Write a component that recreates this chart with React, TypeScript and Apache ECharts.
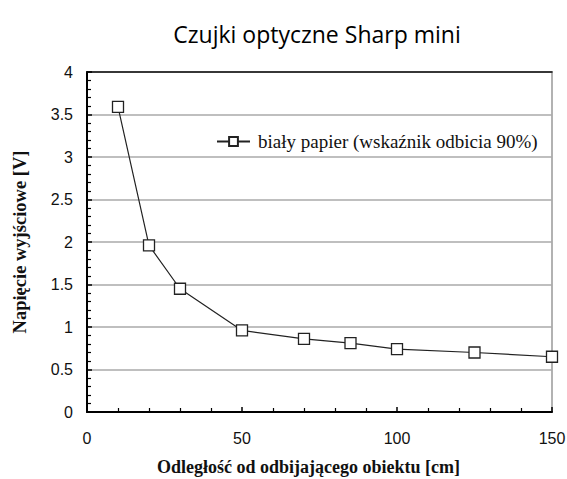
import React, { useEffect, useRef } from "react";
import * as echarts from "echarts";

const distances = [10, 20, 30, 50, 70, 85, 100, 125, 150];
const voltages = [3.59, 1.96, 1.45, 0.96, 0.86, 0.81, 0.74, 0.7, 0.65];
const seriesName = "biały papier (wskaźnik odbicia 90%)";
const titleText = "Czujki optyczne Sharp mini";
const xName = "Odległość od odbijającego obiektu [cm]";
const yName = "Napięcie wyjściowe [V]";

export default function App() {
  const ref = useRef<HTMLDivElement>(null);
  useEffect(() => {
    if (!ref.current) return;
    const chart = echarts.init(ref.current, undefined, { renderer: "svg" });
    const serif = "'Liberation Serif', 'DejaVu Serif', serif";
    const sans = "'Liberation Sans', Arial, sans-serif";
    chart.setOption({
      animation: false,
      backgroundColor: "#fff",
      title: {
        text: titleText,
        left: 312,
        textAlign: "center",
        top: 17,
        textStyle: { fontFamily: "'Open Sans', 'Noto Sans', sans-serif", fontSize: 23, fontWeight: "normal", color: "#000" },
      },
      legend: {
        left: 211,
        top: 127,
        itemWidth: 33,
        itemHeight: 11,
        itemGap: 6,
        data: [seriesName],
        textStyle: { fontFamily: serif, fontSize: 19, color: "#111", padding: [0, 0, 0, 3] },
      },
      grid: {
        left: 87,
        top: 72,
        right: 15,
        bottom: 67,
        outerBoundsMode: "none",
        containLabel: false,
        show: true,
        borderColor: "#999",
        borderWidth: 1.5,
      },
      xAxis: [
        {
          type: "value",
          min: 0,
          max: 150,
          interval: 50,
          name: xName,
          nameLocation: "middle",
          nameGap: 46,
          nameTextStyle: { fontFamily: serif, fontSize: 18, fontWeight: "bold", color: "#111", padding: [0, 22, 0, 0] },
          axisLine: { show: true, lineStyle: { color: "#000", width: 2 } },
          axisTick: { show: true, inside: true, length: 5, lineStyle: { color: "#000", width: 1.5 } },
          minorTick: { show: true, splitNumber: 5, length: 4, lineStyle: { color: "#000", width: 1.2 } },
          axisLabel: { margin: 18, fontFamily: sans, fontSize: 16, color: "#111" },
          splitLine: { show: false },
        },
        {
          type: "value",
          position: "top",
          min: 0,
          max: 150,
          interval: 50,
          axisLine: { show: true, lineStyle: { color: "#111", width: 1.5 } },
          axisTick: { show: false },
          axisLabel: { show: false },
          splitLine: { show: false },
        },
      ],
      yAxis: {
        type: "value",
        min: 0,
        max: 4,
        interval: 0.5,
        name: yName,
        nameLocation: "middle",
        nameGap: 58,
        nameTextStyle: { fontFamily: serif, fontSize: 18.5, fontWeight: "bold", color: "#111" },
        axisLine: { show: true, lineStyle: { color: "#000", width: 2 } },
        axisTick: { show: true, inside: true, length: 5, lineStyle: { color: "#000", width: 1.5 } },
        minorTick: { show: true, splitNumber: 5, length: 4, lineStyle: { color: "#000", width: 1.2 } },
        axisLabel: { margin: 14, fontFamily: sans, fontSize: 16, color: "#111" },
        splitLine: { show: true, lineStyle: { color: "#aaa", width: 1.5 } },
      },
      series: [
        {
          name: seriesName,
          type: "line",
          xAxisIndex: 0,
          data: distances.map((d, i) => [d, voltages[i]]),
          symbol: "rect",
          symbolSize: 11,
          lineStyle: { color: "#222", width: 1.2 },
          itemStyle: { color: "#fff", borderColor: "#222", borderWidth: 1.3 },
        },
      ],
    });
    return () => chart.dispose();
  }, []);
  return <div ref={ref} style={{ width: 567, height: 479, position: "absolute", left: 0, top: 0 }} />;
}
